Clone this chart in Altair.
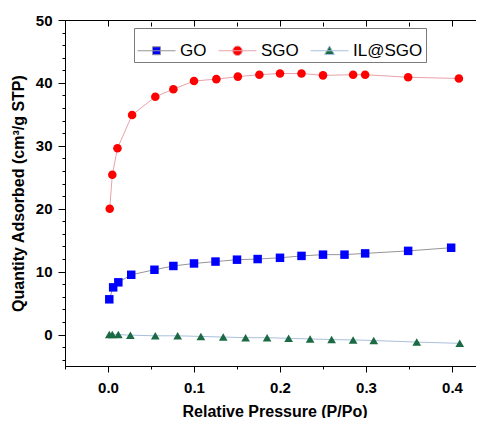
import altair as alt
import pandas as pd

# ---------------- data ----------------
series_names = ["GO", "SGO", "IL@SGO"]

go_x = [0.0015, 0.006, 0.012, 0.027, 0.054, 0.076, 0.100, 0.125, 0.150, 0.174,
        0.200, 0.225, 0.250, 0.275, 0.299, 0.349, 0.399]
go_y = [5.6, 7.5, 8.3, 9.5, 10.3, 10.9, 11.3, 11.6, 11.9, 12.0,
        12.2, 12.5, 12.7, 12.7, 12.9, 13.3, 13.8]

sgo_x = [0.002, 0.005, 0.011, 0.028, 0.055, 0.076, 0.100, 0.126, 0.151, 0.176,
         0.200, 0.225, 0.250, 0.285, 0.299, 0.349, 0.408]
sgo_y = [20.0, 25.4, 29.6, 34.9, 37.8, 39.0, 40.3, 40.6, 41.0, 41.3,
         41.5, 41.5, 41.2, 41.3, 41.3, 40.9, 40.7]

il_x = [0.0015, 0.005, 0.012, 0.026, 0.055, 0.081, 0.108, 0.134, 0.160, 0.185,
        0.210, 0.235, 0.260, 0.285, 0.309, 0.359, 0.409]
il_y = [0.0, 0.0, 0.0, -0.1, -0.2, -0.2, -0.3, -0.4, -0.5, -0.5,
        -0.6, -0.7, -0.8, -0.85, -0.95, -1.2, -1.4]

x_ticks = [-0.05, 0.0, 0.05, 0.1, 0.15, 0.2, 0.25, 0.3, 0.35, 0.4]
y_ticks = list(range(-4, 51, 2))

marker_colors = ["#0000ff", "#ff0000", "#1b6a43"]
line_colors = ["#959595", "#e8a2aa", "#a9c0dc"]
marker_shapes = ["square", "circle", "triangle-up"]
marker_sizes = [72, 75, 140]
legend_paths = [
    "M-1,0H1M-0.21,-0.21H0.21V0.21H-0.21Z",
    "M-1,0H1M0.25,0A0.25,0.25,0,1,1,-0.25,0A0.25,0.25,0,1,1,0.25,0Z",
    "M-1,0H1M0,-0.26L0.26,0.2H-0.26Z",
]

rows = []
for name, xs, ys in [("GO", go_x, go_y), ("SGO", sgo_x, sgo_y), ("IL@SGO", il_x, il_y)]:
    for xv, yv in zip(xs, ys):
        rows.append({"series": name, "x": xv, "y": yv})
df = pd.DataFrame(rows)

FONT = "Liberation Sans"
x_scale = alt.Scale(domain=[-0.05, 0.4372], nice=False, zero=False)
y_scale = alt.Scale(domain=[-5, 50], nice=False, zero=False)
x_major = "abs(datum.value*10 - round(datum.value*10)) < 0.001"
y_major = "datum.value % 10 === 0"

# connecting lines; also carries the inward tick marks along the top edge
lines = alt.Chart(df).mark_line(strokeWidth=1).encode(
    x=alt.X("x:Q", scale=x_scale,
            axis=alt.Axis(orient="top", values=x_ticks, labels=False, title=None,
                          domain=False, offset=-6,
                          tickSize={"condition": {"test": x_major, "value": 6}, "value": 4})),
    y=alt.Y("y:Q", scale=y_scale, axis=None),
    stroke=alt.Stroke("series:N", scale=alt.Scale(domain=series_names, range=line_colors),
                      legend=None),
    order="x:Q",
)

points = alt.Chart(df).mark_point(filled=True, opacity=1).encode(
    x=alt.X("x:Q", scale=x_scale,
            axis=alt.Axis(orient="bottom", values=x_ticks, title="Relative Pressure (P/Po)",
                          labelExpr=x_major + " ? format(datum.value, '.1f') : ''",
                          tickSize={"condition": {"test": x_major, "value": 6}, "value": 3},
                          labelPadding=8, titlePadding=8, labelOverlap=False, labelFlush=False)),
    y=alt.Y("y:Q", scale=y_scale,
            axis=alt.Axis(orient="left", values=y_ticks, title="Quantity Adsorbed (cm³/g STP)",
                          labelExpr=y_major + " ? datum.label : ''",
                          tickSize={"condition": {"test": y_major, "value": 7}, "value": 3},
                          labelPadding=6, titlePadding=9, labelOverlap=False, labelFlush=False)),
    fill=alt.Fill("series:N", scale=alt.Scale(domain=series_names, range=marker_colors),
                  legend=None),
    shape=alt.Shape("series:N", scale=alt.Scale(domain=series_names, range=marker_shapes),
                    legend=None),
    size=alt.Size("series:N", scale=alt.Scale(domain=series_names, range=marker_sizes),
                  legend=None),
)

leg = dict(orient="none", legendX=69, legendY=8, direction="horizontal", title=None,
           strokeColor="#7a7a7a", padding=3, symbolSize=1444, symbolStrokeWidth=1,
           labelFont=FONT, labelFontSize=17, labelColor="black", labelOffset=4,
           columnPadding=9, fillColor="white")

# empty layer that only provides the legend (line + marker symbols)
legend_layer = alt.Chart(df).transform_filter("false").mark_point(filled=True, opacity=1).encode(
    fill=alt.Fill("series:N", scale=alt.Scale(domain=series_names, range=marker_colors),
                  legend=alt.Legend(**leg)),
    stroke=alt.Stroke("series:N", scale=alt.Scale(domain=series_names, range=line_colors),
                      legend=alt.Legend(**leg)),
    shape=alt.Shape("series:N", scale=alt.Scale(domain=series_names, range=legend_paths),
                    legend=alt.Legend(**leg)),
)

chart = alt.layer(lines, points, legend_layer).resolve_scale(
    fill="independent", stroke="independent", shape="independent", size="independent"
).resolve_axis(x="independent", y="independent").properties(
    width=419, height=346,
    autosize=alt.AutoSizeParams(type="none"),
    padding={"left": 57, "top": 12, "right": -8, "bottom": 52},
).configure_view(stroke="black", strokeWidth=1).configure_axis(
    domainColor="black", tickColor="black", labelColor="black", titleColor="black",
    labelFont=FONT, titleFont=FONT, labelFontWeight="bold", titleFontWeight="bold",
    labelFontSize=15, titleFontSize=16, grid=False, domainWidth=1, tickWidth=1,
)

chart.save("out.html", embed_options={"renderer": "svg", "actions": False})
